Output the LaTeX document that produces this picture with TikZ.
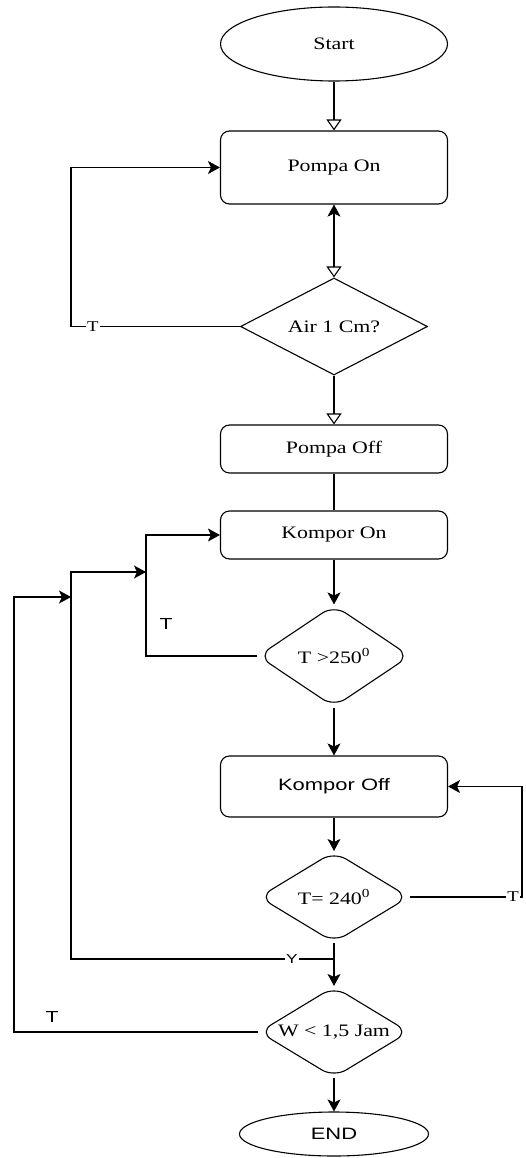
\documentclass[tikz,border=0pt]{standalone}
\usepackage{fontspec}
\setmainfont[FakeStretch=1.25]{Liberation Serif}
\setsansfont[FakeStretch=1.33]{Liberation Sans}
\usetikzlibrary{shapes.geometric, arrows.meta}

\begin{document}
\begin{tikzpicture}[
  x=1pt, y=-1pt,
  line width=1.1pt,
  every node/.style={font=\fontsize{17.5}{20}\selectfont},
  term/.style={ellipse, draw, minimum width=227pt, minimum height=74pt},
  proc/.style={rectangle, draw, rounded corners=9pt, minimum width=227pt},
  decide/.style={diamond, draw, inner xsep=-60pt, inner ysep=-15pt},
  flow/.style={-{Stealth[length=12pt, width=13pt, inset=3pt]}},
  hollow/.style={-{Triangle[open, length=11pt, width=15pt]}},
  lbl/.style={fill=white, inner sep=1pt, font=\fontsize{15}{16}\selectfont},
  lblsf/.style={font=\sffamily\fontsize{16}{18}\selectfont}
]
\useasboundingbox (0,0) rectangle (525,1158);

% Main column
\node[term] (start) at (334,44) {Start};
\node[proc, minimum height=73pt] (pompaon) at (334,167.5) {Pompa On};
\node[decide, minimum width=187pt, minimum height=97pt] (air) at (334,326.5) {Air 1 Cm?};
\node[proc, minimum height=48pt] (pompaoff) at (334,449) {Pompa Off};
\node[proc, minimum height=48pt] (komporon) at (334,535) {Kompor On};
\node[decide, rounded corners=14pt, minimum width=152pt, minimum height=102pt] (suhu1) at (334,656) {T >250\textsuperscript{0}};
\node[proc, minimum height=61pt, font=\sffamily\fontsize{16.5}{19}\selectfont] (komporoff) at (334,786.5) {Kompor Off};
\node[decide, rounded corners=14pt, minimum width=150pt, minimum height=91pt] (suhu2) at (334,897) {T= 240\textsuperscript{0}};
\node[decide, rounded corners=14pt, minimum width=150pt, minimum height=91pt] (waktu) at (334,1032) {W < 1,5 Jam};
\node[term, minimum width=189pt, minimum height=44pt, font=\sffamily\fontsize{16.5}{19}\selectfont] (end) at (334,1134) {END};

% Straight flow
\draw[hollow] (start) -- (pompaon);
\draw[{Stealth[length=12pt, width=13pt, inset=3pt]}-{Triangle[open, length=11pt, width=15pt]}] (pompaon) -- (air);
\draw[hollow] (air) -- (pompaoff);
\draw (pompaoff) -- (komporon);
\draw[flow] (komporon) -- (suhu1);
\draw[flow] (suhu1) -- (komporoff);
\draw[flow] (komporoff) -- (suhu2);
\draw[flow] (suhu2) -- (waktu);
\draw[flow] (waktu) -- (end);

% Loop back to pump
\coordinate (c1) at (71,326.5);
\draw[flow] (air.west) -- node[lbl, pos=0.87] {T} (c1) |- (pompaon.west);

% Loop back to stove on
\coordinate (c2) at (146,656);
\draw[flow] (suhu1.west) -- (c2) |- (komporon.west);
\node[lblsf] (t2) at (166,624) {T};

% Y branch
\coordinate (c3) at (334,959);
\coordinate (c4) at (71,959);
\coordinate (c5) at (146,572);
\draw[flow] (c3) -- node[lbl, pos=0.16, font=\sffamily\fontsize{13}{14}\selectfont] {Y} (c4) |- (c5);

% Time loop
\coordinate (c6) at (14,1032);
\coordinate (c7) at (71,597);
\draw[flow] (waktu.west) -- (c6) |- (c7);
\node[lblsf] (t3) at (52,1017) {T};

% Loop back to stove off
\coordinate (c8) at (522,897);
\draw[flow] (suhu2.east) -- node[lbl, pos=0.92] {T} (c8) |- (komporoff.east);

\end{tikzpicture}
\end{document}
